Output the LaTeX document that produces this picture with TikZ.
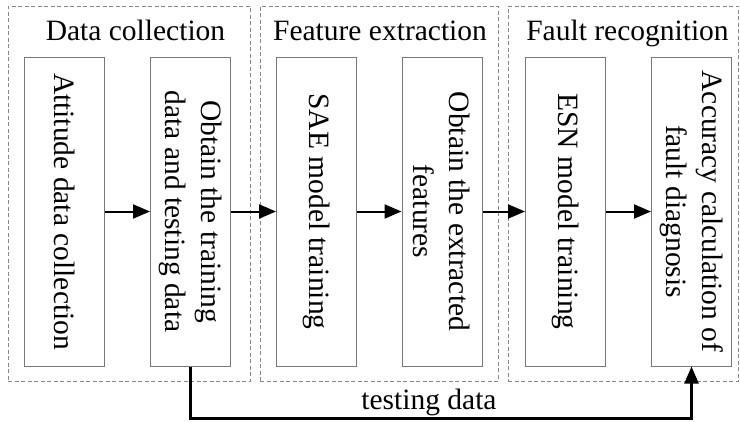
\documentclass[tikz,border=0pt]{standalone}
\usepackage{fontspec}
\setmainfont{Liberation Serif}
\usetikzlibrary{arrows.meta}
\definecolor{box_gray}{RGB}{120,120,120}
\definecolor{group_gray}{RGB}{135,135,135}

\begin{document}
\begin{tikzpicture}[x=1pt,y=-1pt,-{Triangle[length=17pt,width=14pt]},line width=2pt]
    \tikzstyle{stage}=[draw=box_gray, line width=1pt, rectangle, rotate=-90, minimum width=309pt, minimum height=80pt, inner sep=0pt, align=center, font=\fontsize{29.5}{36}\selectfont]
    \tikzstyle{group}=[draw=group_gray, line width=0.9pt, dash pattern=on 4pt off 2.5pt, rectangle, inner sep=0pt]
    \tikzstyle{title}=[anchor=base, inner sep=0pt, font=\fontsize{29.5}{36}\selectfont]

    \useasboundingbox (0,0) rectangle (740,421);

    \node[group, minimum width=242pt, minimum height=375pt]   (g1) at (129,193.5)   {};
    \node[group, minimum width=238pt, minimum height=375pt]   (g2) at (379,193.5)   {};
    \node[group, minimum width=230.5pt, minimum height=375pt] (g3) at (623.25,193.5) {};

    \node[title] (t1) at (135.5,40) {Data collection};
    \node[title] (t2) at (380,40)   {Feature extraction};
    \node[title] (t3) at (627.5,40) {Fault recognition};

    \node[stage] (a) at (64.5,211.5)  {Attitude data collection};
    \node[stage] (b) at (190.5,211.5) {Obtain the training\\data and testing data};
    \node[stage] (c) at (316.5,211.5) {SAE model training};
    \node[stage] (d) at (442,211.5)   {Obtain the extracted\\features};
    \node[stage] (e) at (565.5,211.5) {ESN model training};
    \node[stage] (f) at (691.5,211.5) {Accuracy calculation of\\fault diagnosis};
    \coordinate (low) at (0,418.5);

    \path
     (a) edge (b)
     (b) edge (c)
     (c) edge (d)
     (d) edge (e)
     (e) edge (f)
     ;
    \draw[line width=2.3pt] (b.east) -- (b.east |- low) -| node[pos=0.238, above, inner sep=1pt, font=\fontsize{29.5}{36}\selectfont] {testing data} (f.east);
  \end{tikzpicture}
\end{document}
